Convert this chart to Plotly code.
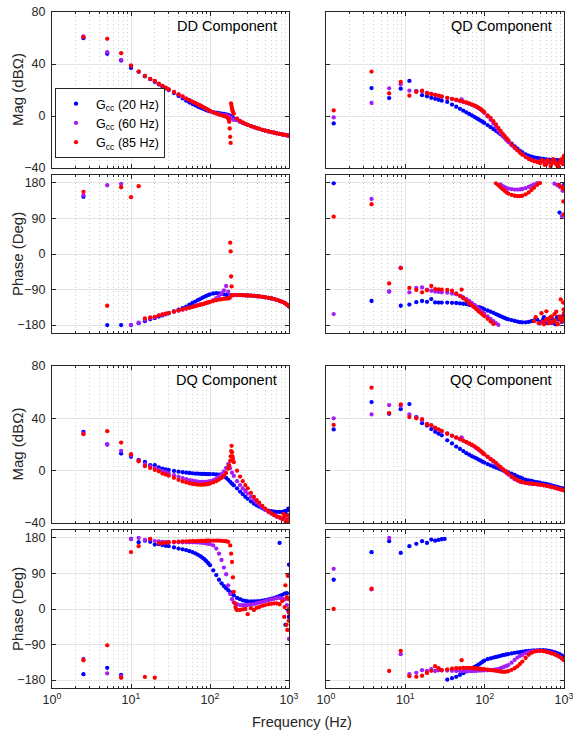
import plotly.graph_objects as go

# ---------------- frequency grids (Hz) ----------------
F_L = [2.5, 5, 7.5, 10, 12.5, 15, 17.5, 20, 22.5, 25, 27.5, 30,
       35, 40, 45, 50, 55, 60, 65, 70, 75, 80, 85, 90, 95, 100,
       110, 120, 130, 140, 150, 160, 170, 180, 190, 200,
       220, 240, 260, 280, 300, 330, 360, 390, 420, 460, 500, 550, 600, 650, 700, 760, 820, 880, 940, 1000]
F_R = [1.25, 3.75, 6.25, 8.75, 11.25, 13.75, 16.25, 18.75, 21.25, 23.75, 26.25, 28.75,
       33.75, 38.75, 43.75, 48.75, 53.75, 58.75, 63.75, 68.75, 73.75, 78.75, 83.75, 88.75, 93.75, 98.75,
       108.75, 118.75, 128.75, 138.75, 148.75, 158.75, 168.75, 178.75, 188.75, 198.75,
       218.75, 238.75, 258.75, 278.75, 298.75, 328.75, 358.75, 388.75, 418.75, 458.75, 498.75, 548.75,
       598.75, 648.75, 698.75, 758.75, 818.75, 878.75, 938.75, 998.75]

# ---------------- DD component ----------------
DD_MAG_20 = [59.9, 47.8, 42.7, 37.0, 34.0, 30.5, 28.3, 26.2, 24.2, 22.6, 21.2, 20.0,
             17.6, 15.4, 13.5, 11.8, 10.4, 9.2, 8.2, 7.3, 6.5, 5.8, 5.1, 4.5, 4.0, 3.5,
             2.9, 2.5, 2.2, 1.9, 1.6, 1.3, 0.9, 0.3, -0.8, -1.8,
             -3.2, -4.4, -5.3, -6.1, -6.9, -7.8, -8.6, -9.3, -9.9, -10.6, -11.2, -11.9, -12.4, -12.9, -13.3, -13.8, -14.2, -14.5, -14.8, -15.1]
DD_MAG_60 = [61.2, 49.1, 43.2, 38.8, 34.2, 30.8, 28.5, 26.9, 24.7, 23.1, 21.7, 20.4,
             18.4, 16.5, 14.9, 13.3, 12.1, 10.9, 9.9, 8.9, 8.0, 7.1, 6.2, 5.4, 4.6, 3.8,
             2.8, 2.0, 1.4, 1.0, 0.7, 0.5, 0.3, -0.8, -2.2, -3.0,
             -3.2, -4.4, -5.3, -6.1, -6.9, -7.8, -8.6, -9.3, -9.9, -10.6, -11.2, -11.9, -12.4, -12.9, -13.3, -13.8, -14.2, -14.5, -14.8, -15.1]
DD_MAG_85 = [60.7, 59.4, 48.3, 38.8, 34.2, 30.8, 28.5, 27.0, 24.8, 23.2, 21.8, 20.5,
             18.5, 16.6, 15.0, 13.4, 12.2, 11.0, 10.0, 9.0, 8.1, 7.2, 6.3, 5.5, 4.7, 3.9,
             2.8, 1.9, 1.1, 0.5, 0.0, -0.5, -1.8, -16.0, 5.8, 1.8,
             -2.0, -3.8, -5.0, -6.0, -6.8, -7.8, -8.6, -9.3, -9.9, -10.6, -11.2, -11.9, -12.4, -12.9, -13.3, -13.8, -14.2, -14.5, -14.8, -15.1]
DD_MAG_85_XF = [165, 172.5, 175, 177.5, 182.5, 185, 187.5, 192.5, 195]
DD_MAG_85_XV = [-1.0, -2.8, -4.5, -9.6, -20.7, 9.7, 7.6, 4.3, 3.2]

DD_PH_20 = [144.7, -180, -180, -180, -175, -170, -165.5, -162, -158.5, -155.5, -152.5, -150,
            -145, -141, -137, -133, -128, -124, -120.5, -117, -114, -111, -108.5, -106, -104, -102,
            -100, -99.3, -99.5, -100.5, -102, -103.5, -104.5, -105, -104.5, -104.2,
            -104, -104, -104.2, -104.5, -105, -105.5, -106, -106.8, -107.5, -108.5, -109.5, -111, -112.5, -114, -116, -118.5, -121, -124, -128, -133]
DD_PH_60 = [149, 174, 177.5, -180, -174, -167, -163, -160, -156, -153.5, -151.5, -149.5,
            -146, -143, -140.5, -138, -136, -134, -132, -130, -128.5, -127, -125.5, -124, -122.5, -121,
            -117, -112, -106, -100, -92, -81, -95, -105, -104.5, -104,
            -104, -104, -104.2, -104.5, -105, -105.5, -106, -106.8, -107.5, -108.5, -109.5, -111, -112.5, -114, -116, -118.5, -121, -124, -128, -133]
DD_PH_85 = [157.3, -131, 169, 143.8, 171.6, -163, -160.6, -159, -155.5, -153, -151, -149,
            -146, -143, -140.5, -138, -136, -134, -132, -130, -128.5, -127, -125.5, -124, -122.5, -121,
            -119, -117, -115.5, -114.5, -113.5, -113, -112, 28.6, -104, -104,
            -104, -104, -104.2, -104.5, -105, -105.5, -106, -106.8, -107.5, -108.5, -109.5, -111, -112.5, -114, -116, -118.5, -121, -124, -128, -133]
DD_PH_85_XF = [175, 177.5, 182.5, 185, 187.5]
DD_PH_85_XV = [-111.5, -111, 6.6, -57, -82]

# ---------------- QD component ----------------
QD_MAG_20 = [-5.7, 21.5, 13.8, 21.0, 27.0, 19.2, 16.0, 15.2, 14.0, 13.2, 12.5, 11.8,
             10.8, 8.8, 7.1, 5.5, 4.1, 2.8, 1.6, 0.5, -0.6, -1.6, -2.6, -3.5, -4.4, -5.3,
             -7.0, -8.6, -10.0, -11.4, -12.7, -14.0, -15.3, -16.6, -17.8, -19.0,
             -21.3, -23.4, -25.2, -26.8, -28.0, -29.5, -30.5, -31.2, -31.8, -32.3, -32.7, -33.0, -33.3, -33.5, -33.7, -33.8, -34.0, -34.0, -34.2, -34.0]
QD_MAG_60 = [-1.1, 10.0, 21.3, 24.4, 19.5, 19.0, 19.0, 17.8, 17.0, 16.2, 15.5, 14.8,
             13.8, 13.0, 12.2, 11.5, 10.8, 10.1, 9.4, 8.6, 7.8, 7.0, 6.0, 5.0, 3.8, 2.5,
             -0.3, -3.0, -5.8, -8.4, -11.0, -13.2, -15.2, -17.0, -18.6, -20.0,
             -22.5, -24.6, -26.4, -28.0, -29.5, -31.2, -32.6, -33.6, -34.4, -35.0, -35.6, -34.8, -36.5, -35.5, -36.0, -35.0, -37.0, -36.0, -34.5, -33.0]
QD_MAG_60_XF = [51.25]
QD_MAG_60_XV = [12.8]
QD_MAG_85 = [4.3, 34.2, 17.4, 26.2, 15.6, 18.5, 19.5, 17.5, 17.0, 16.3, 15.6, 15.0,
             14.0, 13.2, 12.5, 11.8, 11.1, 10.4, 9.7, 9.0, 8.2, 7.4, 6.5, 5.4, 4.3, 3.0,
             0.5, -1.5, -4.0, -6.5, -9.2, -11.5, -13.5, -15.4, -17.2, -18.8,
             -21.8, -24.2, -26.3, -28.2, -29.8, -31.6, -33.0, -34.0, -34.8, -35.3, -36.4, -34.6, -37.2, -35.0, -36.5, -34.2, -37.8, -35.5, -33.5, -30.5]
QD_MAG_85_XF = [520, 570, 620, 680, 730, 790, 850, 910, 960, 985]
QD_MAG_85_XV = [-33.8, -37.5, -34.0, -38.5, -33.2, -36.8, -38.8, -33.6, -37.0, -32.0]

QD_PH_20 = [179, -119, -95, -131, -128, -122, -119, -121, -114, -122.5, -123, -123,
            -123, -123.5, -124, -125, -126, -127, -128.5, -130, -131.5, -133, -134.5, -136, -138, -140,
            -143, -146, -149, -152, -155, -157.5, -160, -162, -164, -165.5,
            -167.5, -169.5, -171, -172.5, -173, -173, -172, -170, -168, -166, -172, -165, -170, -163, -175, -168, -160, 105, -172, 175]
QD_PH_20_XF = [560, 620, 700, 780, 860, 960, 990]
QD_PH_20_XV = [-160, -175, -162, -178, -166, -158, 165]
QD_PH_60 = [-152, 139.4, -94.7, -34.6, -97, -86, -84.5, -90, -93, -95, -96, -97,
            -98, -100, -102, -106, -110, -114, -119, -124, -129, -134, -139, -143, -147, -151,
            -158, -164, -170, -175, -179.5, 176, 172, 169, 167, 165.5,
            164, 163.2, 163, 163.5, 164.5, 167, 170, 173, 176, 179.5, -176, -172, -168, -170, -174, 178, 175, 170, 96, 170]
QD_PH_60_XF = [51.25, 900, 960]
QD_PH_60_XV = [-108, -165, 160]
QD_PH_85 = [94.6, 126, -74.4, -36, -86, -91, -97, -92, -81, -88.7, -89.5, -90,
            -91, -93, -100, -106, -112, -118, -125, -130, -135, -140, -145, -149, -153, -157,
            -164, -171, -177, 179, 174, 169, 164, 160, 156, 153,
            149.5, 147.5, 146.3, 146.5, 147.5, 151, 156, 162, 168, 175, 179.5, -172, -165, -175, -158, -168, -176, -162, -170, -150]
QD_PH_85_XF = [51.25, 420, 440, 480, 520, 560, 600, 640, 680, 720, 760, 800, 840, 880, 920, 960, 990,
               870, 930, 965, 980, 995, 910, 975]
QD_PH_85_XV = [-90, -170, -160, -175, -150, -178, -145, -165, -160, -172, -152, -146, -178, -158, -168, -162, -140,
               175, 170, 165, 133, 100, -115, -123]

# ---------------- DQ component ----------------
DQ_MAG_20 = [29.7, 20.0, 13.1, 10.6, 8.3, 6.7, 4.2, 4.2, 2.5, 1.6, 1.0, 0.5,
             -0.2, -0.8, -1.2, -1.5, -1.8, -2.0, -2.2, -2.3, -2.4, -2.5, -2.5, -2.6, -2.6, -2.6,
             -2.7, -2.8, -3.0, -3.4, -4.3, -5.5, -7.0, -8.5, -10.0, -11.2,
             -13.5, -16.0, -18.0, -20.0, -21.5, -23.5, -25.2, -26.5, -27.5, -28.8, -29.7, -30.5, -31.0, -31.3, -31.5, -31.6, -31.5, -31.0, -30.5, -30.0]
DQ_MAG_20_XF = [900, 980]
DQ_MAG_20_XV = [-33.0, -29.0]
DQ_MAG_60 = [28.5, 20.0, 15.2, 11.8, 7.8, 5.0, 3.3, 2.0, 0.8, -0.3, -1.2, -2.0,
             -3.5, -4.7, -5.7, -6.5, -7.2, -7.7, -8.0, -8.3, -8.5, -8.6, -8.6, -8.5, -8.3, -8.0,
             -7.2, -6.0, -4.5, -2.6, -0.5, 2.2, 5.0, 2.0, -1.5, -4.0,
             -8.0, -11.0, -13.5, -15.5, -17.5, -20.0, -22.3, -24.3, -26.0, -28.0, -30.0, -31.6, -33.0, -34.2, -35.2, -36.0, -36.5, -37.0, -37.5, -37.8]
DQ_MAG_85 = [27.9, 30.2, 21.5, 12.6, 7.2, 3.4, 2.1, 0.6, -0.5, -2.2, -3.0, -3.8,
             -5.5, -7.0, -8.2, -9.0, -9.6, -10.1, -10.4, -10.6, -10.7, -10.7, -10.6, -10.4, -10.1, -9.8,
             -9.0, -8.0, -6.8, -5.4, -3.8, -1.8, 1.5, 7.5, 14.0, 6.5,
             0.0, -4.5, -8.0, -11.0, -13.5, -17.0, -20.0, -22.5, -24.5, -27.0, -29.0, -31.0, -32.5, -33.8, -35.0, -35.5, -37.0, -35.0, -38.0, -36.5]
DQ_MAG_85_XF = [175, 182.5, 185, 187.5, 192.5, 195, 850, 910, 970, 990]
DQ_MAG_85_XV = [4.0, 11.0, 15.0, 19.0, 11.0, 9.0, -33.0, -39.0, -34.0, -39.5]

DQ_PH_20 = [-165, -149, -167, 177.5, 169, 173, 170, 163, 164, 162, 160, 159,
            156, 153, 151, 149, 146.5, 144, 141, 137.5, 134, 130, 126, 121, 116, 111,
            98, 86, 74, 65, 58, 52.5, 47.5, 42.5, 38, 34.5,
            28, 25, 22, 20.5, 19.5, 19, 19, 19.5, 20, 21, 22.5, 24, 26, 28, 30, 33, 36, 39, 40, 112]
DQ_PH_20_XF = [760, 900, 980, 995]
DQ_PH_20_XV = [167.4, -40, -5, -20]
DQ_PH_60 = [-126.4, -163, -170, 177.5, 180, 175, 176, 172, 171, 170, 169, 169,
            169, 169, 169, 169, 169, 169, 169, 168.5, 168, 167.5, 167, 166, 165, 164,
            161, 153, 140, 124, 105, 88, 60, 38, 25, 17,
            12, 10, 9.5, 9.5, 10, 11, 12, 14, 16, 18, 20, 22, 24, 26, 27, 28, 26, 24, 10, -76]
DQ_PH_85 = [-129.8, -92, -174, 144, 159, -172, 177.5, -174, 167, 166, 168, 169,
            170, 170.5, 171, 171, 171.5, 172, 172, 172, 172.5, 172.5, 172.5, 173, 173, 173,
            173, 173, 173, 172.5, 172, 171.5, 170, 161, 119, 43.5,
            -2.5, -2.5, -1, 0, -13, 2, -2.5, 3, 5, 8, 10, 12, 13, 14, 14, 12, 20, 5, 30, -10]
DQ_PH_85_XF = [185, 195, 205, 210, 215, 870, 900, 930, 950, 965, 980, 990, 995]
DQ_PH_85_XV = [140, 80, 15, 5, 0, -20, 60, -40, -53, 84, 25, -30, 0]

# ---------------- QQ component ----------------
QQ_MAG_20 = [31.5, 52.4, 43.5, 47.0, 50.9, 41.0, 36.3, 34.5, 31.8, 29.7, 28.3, 27.0,
             23.2, 20.8, 18.4, 16.6, 15.0, 13.4, 12.2, 11.1, 10.2, 9.4, 8.5, 7.7, 6.9, 6.2,
             5.0, 4.0, 3.2, 2.4, 1.7, 1.0, 0.3, -0.3, -0.8, -1.3,
             -2.3, -3.3, -4.3, -5.2, -6.0, -6.8, -7.4, -7.9, -8.3, -8.8, -9.2, -9.7, -10.2, -10.7, -11.2, -11.8, -12.4, -12.9, -13.4, -13.8]
QQ_MAG_60 = [40.0, 43.0, 50.1, 49.6, 43.0, 40.5, 38.5, 35.8, 34.5, 32.5, 31.2, 30.0,
             28.2, 26.6, 25.2, 24.0, 22.8, 21.7, 20.6, 19.5, 18.4, 17.2, 16.0, 14.8, 13.6, 12.4,
             10.5, 8.6, 7.0, 5.4, 3.8, 2.3, 0.9, -0.5, -1.8, -3.0,
             -5.0, -6.5, -7.6, -8.4, -9.0, -9.5, -9.8, -10.0, -10.2, -10.5, -10.8, -11.2, -11.6, -12.0, -12.5, -13.0, -13.6, -14.1, -14.6, -15.0]
QQ_MAG_60_XF = [51.25]
QQ_MAG_60_XV = [25.5]
QQ_MAG_85 = [35.0, 63.4, 44.0, 50.6, 41.0, 40.0, 39.4, 35.3, 34.8, 32.8, 31.5, 30.4,
             28.4, 26.8, 25.4, 24.2, 23.0, 21.9, 20.8, 19.8, 18.8, 17.6, 16.4, 15.2, 13.9, 12.6,
             10.8, 9.0, 7.5, 6.0, 4.0, 2.6, 1.2, 0.0, -1.1, -2.2,
             -4.2, -5.9, -7.2, -8.1, -8.8, -9.4, -9.7, -9.9, -10.1, -10.4, -10.7, -11.1, -11.6, -12.0, -12.5, -13.0, -13.6, -14.1, -14.6, -15.0]

QQ_PH_20 = [74, 143.8, 171.6, 142, 159, 165, 171.6, 167.4, 175.8, 173, 175, 176.6,
            -179, -175, -171.6, -167, -162.5, -158, -154, -150.6, -147, -144, -141, -137.5, -134, -131,
            -127, -125, -123, -121.5, -120, -118.5, -117, -116, -115, -114,
            -112.5, -111, -110, -109, -108, -107, -106, -105.5, -105, -104.5, -104.3, -104.3, -105, -106, -107.5, -109, -111.5, -114, -117.5, -121]
QQ_PH_20_XF = [31.25]
QQ_PH_20_XV = [177.5]
QQ_PH_60 = [101.8, 49.6, 180, -114.4, -165, -161.5, -154.8, -157, -152, -157, -155, -155,
            -156, -156.5, -157, -157, -157, -157, -157, -157, -157, -156.5, -156, -156, -155.5, -155,
            -155, -154.5, -154, -153, -152, -150, -148, -146, -144, -142,
            -136, -129, -123, -119, -116.5, -112, -109.5, -107.5, -106.5, -106, -106, -106.5, -108, -110, -112, -114.5, -117.5, -121, -125, -129.5]
QQ_PH_85 = [0, 51.3, -157, -106, -170, -171.6, -169, -162, -156.4, -144.7, -150, -155,
            -153, -151, -150, -149.5, -149, -149, -149, -149.5, -150, -150.5, -151, -151.5, -152, -152.5,
            -153.5, -154.5, -155.5, -156.5, -157.5, -158.5, -159, -159, -158.5, -157.5,
            -154, -150, -145, -139, -133, -124, -116, -111, -108, -106.5, -106, -106.5, -108, -110, -112, -114.5, -117.5, -121, -125, -129.5]
QQ_PH_85_XF = [51.25]
QQ_PH_85_XV = [-129.5]

SERIES_NAMES = ["G<sub>cc</sub> (20 Hz)", "G<sub>cc</sub> (60 Hz)", "G<sub>cc</sub> (85 Hz)"]
SERIES_COLORS = ["rgb(0,0,255)", "rgb(165,30,245)", "rgb(255,0,0)"]
X_TICKS = [1, 10, 100, 1000]
X_TICKTEXT = ["10<sup>0</sup>", "10<sup>1</sup>", "10<sup>2</sup>", "10<sup>3</sup>"]
X_MINOR = [2, 3, 4, 5, 6, 7, 8, 9, 20, 30, 40, 50, 60, 70, 80, 90, 200, 300, 400, 500, 600, 700, 800, 900]
MAG_TICKS = [-40, 0, 40, 80]
PH_TICKS = [-180, -90, 0, 90, 180]

E = []
# (row, col, grid, [(values, extra_f, extra_v) x3], kind, label)
PANELS = [
    (0, 0, F_L, [(DD_MAG_20, E, E), (DD_MAG_60, E, E), (DD_MAG_85, DD_MAG_85_XF, DD_MAG_85_XV)], "mag", "DD Component"),
    (0, 1, F_R, [(QD_MAG_20, E, E), (QD_MAG_60, QD_MAG_60_XF, QD_MAG_60_XV), (QD_MAG_85, QD_MAG_85_XF, QD_MAG_85_XV)], "mag", "QD Component"),
    (1, 0, F_L, [(DD_PH_20, E, E), (DD_PH_60, E, E), (DD_PH_85, DD_PH_85_XF, DD_PH_85_XV)], "ph", None),
    (1, 1, F_R, [(QD_PH_20, QD_PH_20_XF, QD_PH_20_XV), (QD_PH_60, QD_PH_60_XF, QD_PH_60_XV), (QD_PH_85, QD_PH_85_XF, QD_PH_85_XV)], "ph", None),
    (2, 0, F_L, [(DQ_MAG_20, DQ_MAG_20_XF, DQ_MAG_20_XV), (DQ_MAG_60, E, E), (DQ_MAG_85, DQ_MAG_85_XF, DQ_MAG_85_XV)], "mag", "DQ Component"),
    (2, 1, F_R, [(QQ_MAG_20, E, E), (QQ_MAG_60, QQ_MAG_60_XF, QQ_MAG_60_XV), (QQ_MAG_85, E, E)], "mag", "QQ Component"),
    (3, 0, F_L, [(DQ_PH_20, DQ_PH_20_XF, DQ_PH_20_XV), (DQ_PH_60, E, E), (DQ_PH_85, DQ_PH_85_XF, DQ_PH_85_XV)], "ph", None),
    (3, 1, F_R, [(QQ_PH_20, QQ_PH_20_XF, QQ_PH_20_XV), (QQ_PH_60, E, E), (QQ_PH_85, QQ_PH_85_XF, QQ_PH_85_XV)], "ph", None),
]

W, H = 573, 732
COL_X = [(52, 289), (326, 564)]
ROW_Y = [(12, 168), (175, 333), (366, 523), (530, 688)]
FONT = "Arial, Liberation Sans, Helvetica, sans-serif"
INK = "#262626"

fig = go.Figure()
layout = dict(width=W, height=H, margin=dict(l=0, r=0, t=0, b=0),
              paper_bgcolor="white", plot_bgcolor="white",
              font=dict(family=FONT, color=INK, size=12.5))
annotations = []

for p, (row, col, grid, series, kind, label) in enumerate(PANELS):
    n = p + 1
    xa = "x" if n == 1 else f"x{n}"
    ya = "y" if n == 1 else f"y{n}"
    for k, (vals, xf, xv) in enumerate(series):
        assert len(vals) == len(grid), (p, k, len(vals))
        fig.add_trace(go.Scatter(
            x=list(grid) + list(xf), y=list(vals) + list(xv),
            mode="markers", xaxis=xa, yaxis=ya,
            marker=dict(size=4.3, color=SERIES_COLORS[k], line=dict(width=0)),
            name=SERIES_NAMES[k], showlegend=(p == 0)))
    x0, x1 = COL_X[col]
    y0, y1 = ROW_Y[row]
    common = dict(showline=True, mirror="ticks", linecolor=INK, linewidth=1,
                  ticks="inside", ticklen=4, tickcolor=INK, zeroline=False,
                  showgrid=True, gridcolor="#e4e4e4", gridwidth=1, automargin=False,
                  ticklabeloverflow="allow",
                  tickfont=dict(size=12.5, color=INK, family=FONT))
    layout["xaxis" + ("" if n == 1 else str(n))] = dict(
        common, type="log", range=[0, 3], domain=[x0 / W, x1 / W], anchor=ya,
        tickvals=X_TICKS, ticktext=X_TICKTEXT, showticklabels=(row == 3),
        minor=dict(tickvals=X_MINOR, ticks="inside", ticklen=2, tickcolor=INK,
                   showgrid=True, gridcolor="#cfcfcf", griddash="1px,3px", gridwidth=1))
    if kind == "mag":
        yr, yt = [-40, 80], MAG_TICKS
    else:
        yr, yt = [-200, 200], PH_TICKS
    layout["yaxis" + ("" if n == 1 else str(n))] = dict(
        common, range=yr, domain=[1 - y1 / H, 1 - y0 / H], anchor=xa,
        tickvals=yt, showticklabels=(col == 0), ticklabelstandoff=3)
    if label:
        annotations.append(dict(text=label, xref="paper", yref="paper",
                                x=(x1 - 10) / W, y=1 - (y0 + 14) / H, xanchor="right", yanchor="middle",
                                showarrow=False, font=dict(size=14.5, color="black", family=FONT)))
    if col == 0:
        annotations.append(dict(text="Mag (dBΩ)" if kind == "mag" else "Phase (Deg)",
                                xref="paper", yref="paper", x=17 / W, y=1 - (y0 + y1) / 2 / H,
                                xanchor="center", yanchor="middle", textangle=-90, showarrow=False,
                                font=dict(size=15, color=INK, family=FONT)))

annotations.append(dict(text="Frequency (Hz)", xref="paper", yref="paper", x=302 / W, y=1 - 722 / H,
                        xanchor="center", yanchor="middle", showarrow=False,
                        font=dict(size=14.5, color=INK, family=FONT)))
layout["annotations"] = annotations
layout["legend"] = dict(x=55 / W, y=1 - 88 / H, xanchor="left", yanchor="top",
                        bgcolor="white", bordercolor=INK, borderwidth=1,
                        font=dict(size=12.5, color="black", family=FONT), tracegroupgap=0)
fig.update_layout(**layout)
fig.write_html("out.html", config={"displayModeBar": False},
               post_script="document.body.style.margin='0';document.body.style.overflow='hidden';")
